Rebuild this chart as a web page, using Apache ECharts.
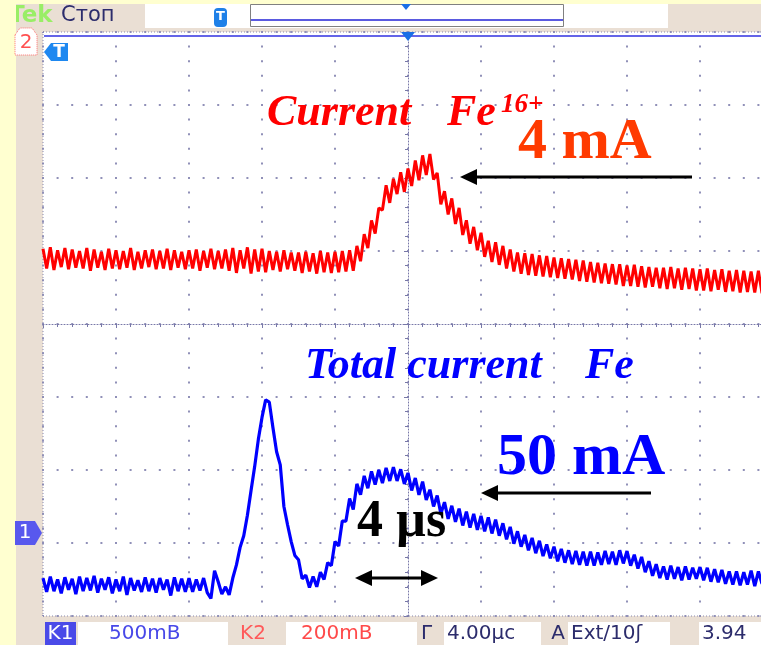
<!DOCTYPE html>
<html><head><meta charset="utf-8">
<script src="https://cdn.jsdelivr.net/npm/echarts@6/dist/echarts.min.js"></script>
<style>html,body{margin:0;padding:0;background:#FFFFD0;}#c{width:761px;height:645px;}</style>
</head><body><div id="c"></div>
<script>
// time axis (µs), 4 µs / div, trigger at centre
const sampleStart = -20;
const sampleStep = 0.2;
const xMin = -20, xMax = 20, xDiv = 4;
// vertical scale in screen divisions (centre = 0)
const yMin = -4, yMax = 4, yDiv = 1;

// Channel 2: Current Fe16+ (divisions)
const currentFe16 = [
1.03,0.76,1.05,0.74,1.01,0.78,1.04,0.75,1.02,0.77,
1.00,0.76,1.04,0.73,1.02,0.77,0.99,0.74,1.03,0.76,
1.01,0.75,1.00,0.77,1.04,0.74,0.99,0.76,1.01,0.78,
1.02,0.75,1.00,0.76,1.03,0.74,1.01,0.77,0.99,0.75,
1.01,0.76,1.02,0.73,1.00,0.77,1.03,0.75,1.00,0.76,
1.02,0.73,1.04,0.70,1.01,0.76,1.05,0.69,1.02,0.72,
1.03,0.71,1.00,0.74,0.99,0.72,1.01,0.75,0.98,0.73,
0.98,0.70,0.99,0.72,0.97,0.69,1.00,0.71,0.98,0.70,
0.99,0.71,1.00,0.72,1.01,0.73,1.07,0.86,1.23,1.04,
1.42,1.24,1.59,1.56,1.90,1.66,1.99,1.78,2.08,1.81,
2.13,1.89,2.24,1.97,2.31,2.04,2.33,1.98,2.07,1.64,
1.82,1.50,1.72,1.37,1.59,1.22,1.42,1.10,1.33,1.01,
1.25,0.92,1.14,0.85,1.12,0.81,1.07,0.76,1.02,0.72,
0.98,0.69,0.97,0.67,0.96,0.66,0.94,0.65,0.93,0.64,
0.91,0.63,0.90,0.62,0.89,0.61,0.88,0.59,0.87,0.58,
0.85,0.57,0.84,0.56,0.83,0.55,0.82,0.54,0.82,0.52,
0.80,0.52,0.81,0.51,0.79,0.50,0.78,0.51,0.77,0.49,
0.77,0.48,0.78,0.49,0.76,0.47,0.77,0.48,0.76,0.46,
0.75,0.46,0.76,0.45,0.74,0.47,0.75,0.44,0.73,0.45,
0.74,0.43,0.73,0.44,0.72,0.43,0.73,0.42
];

// Channel 1: Total current Fe (divisions)
const totalCurrentFe = [
-3.48,-3.67,-3.46,-3.66,-3.50,-3.69,-3.47,-3.64,-3.49,-3.70,
-3.46,-3.66,-3.48,-3.65,-3.45,-3.68,-3.49,-3.64,-3.47,-3.69,
-3.50,-3.66,-3.46,-3.71,-3.48,-3.65,-3.51,-3.67,-3.47,-3.66,
-3.49,-3.68,-3.48,-3.64,-3.50,-3.72,-3.47,-3.66,-3.49,-3.67,
-3.48,-3.67,-3.50,-3.65,-3.48,-3.68,-3.76,-3.38,-3.53,-3.70,
-3.60,-3.71,-3.48,-3.30,-3.06,-2.90,-2.62,-2.28,-1.95,-1.58,
-1.28,-1.04,-1.07,-1.42,-1.75,-1.93,-2.50,-2.75,-2.98,-3.17,
-3.23,-3.49,-3.44,-3.61,-3.46,-3.60,-3.40,-3.50,-3.27,-3.31,
-2.98,-3.04,-2.70,-2.70,-2.39,-2.54,-2.19,-2.34,-2.08,-2.25,
-2.02,-2.20,-2.00,-2.18,-1.97,-2.15,-1.96,-2.15,-1.99,-2.19,
-2.04,-2.28,-2.11,-2.34,-2.16,-2.41,-2.27,-2.50,-2.35,-2.60,
-2.44,-2.67,-2.49,-2.71,-2.53,-2.76,-2.57,-2.79,-2.60,-2.82,
-2.63,-2.84,-2.65,-2.87,-2.68,-2.90,-2.73,-2.95,-2.78,-3.01,
-2.84,-3.05,-2.89,-3.10,-2.93,-3.14,-2.97,-3.18,-3.02,-3.21,
-3.05,-3.25,-3.08,-3.27,-3.10,-3.29,-3.11,-3.30,-3.12,-3.31,
-3.12,-3.31,-3.13,-3.30,-3.11,-3.29,-3.12,-3.30,-3.10,-3.28,
-3.11,-3.31,-3.16,-3.35,-3.19,-3.40,-3.25,-3.45,-3.29,-3.48,
-3.32,-3.50,-3.31,-3.49,-3.33,-3.51,-3.32,-3.50,-3.34,-3.49,
-3.33,-3.51,-3.34,-3.53,-3.36,-3.54,-3.37,-3.56,-3.39,-3.57,
-3.39,-3.58,-3.40,-3.57,-3.38,-3.59,-3.39,-3.56
];

const toPts = arr => arr.map((v, i) => [+(sampleStart + i * sampleStep).toFixed(3), v]);

const GRIDC = '#9090b8';
const CENTERC = '#7878a8';
const SERIF = '"Liberation Serif","Times New Roman",serif';
const SCOPE = '"DejaVu Sans",sans-serif';

function axisCommon() {
  return {
    type: 'value',
    axisLabel: { show: false },
    axisLine: { show: true, onZero: true, lineStyle: { color: CENTERC, width: 1, type: [1, 2] } },
    axisTick: { show: true, length: 4, inside: false, lineStyle: { color: CENTERC, width: 1 } },
    minorTick: { show: true, splitNumber: 5, length: 3, lineStyle: { color: CENTERC, width: 1 } },
    splitLine: { show: true, lineStyle: { color: GRIDC, width: 2, type: [2, 12.6], dashOffset: 1 } }
  };
}

function arrowLeft(x1, x2, y, z) {
  return [
    { type: 'line', z: z, shape: { x1: x1 + 12, y1: y, x2: x2, y2: y }, style: { stroke: '#000', lineWidth: 3 } },
    { type: 'polygon', z: z, shape: { points: [[x1, y], [x1 + 17, y - 8], [x1 + 17, y + 8]] }, style: { fill: '#000' } }
  ];
}
function txt(text, x, y, font, fill, align, z) {
  return { type: 'text', z: z || 20, style: { text: text, x: x, y: y, font: font, fill: fill, textAlign: align || 'left', textVerticalAlign: 'middle' } };
}

const graphics = [];
// outer frame colours
graphics.push({ type: 'rect', z: 1, shape: { x: 0, y: 0, width: 16, height: 645 }, style: { fill: '#FFFFD0' } });
graphics.push({ type: 'rect', z: 1, shape: { x: 0, y: 0, width: 761, height: 4 }, style: { fill: '#FFFFD0' } });
// top bar
graphics.push({ type: 'rect', z: 1, shape: { x: 145, y: 4, width: 523, height: 24 }, style: { fill: '#ffffff' } });
graphics.push(txt('Tek', 9, 16, 'bold 23px ' + SCOPE, '#99EE66', 'left', 2));
graphics.push({ type: 'rect', z: 3, shape: { x: 0, y: 0, width: 16, height: 30 }, style: { fill: '#FFFFD0' } });
graphics.push(txt('Стоп', 61, 16, '21px ' + SCOPE, '#2c2c6c', 'left', 3));
graphics.push({ type: 'rect', z: 3, shape: { x: 214, y: 8, width: 13, height: 19, r: 4 }, style: { fill: '#1E80E8' } });
graphics.push(txt('T', 220.5, 17, 'bold 13px ' + SCOPE, '#ffffff', 'center', 4));
graphics.push({ type: 'rect', z: 3, shape: { x: 250.5, y: 4.5, width: 313, height: 22 }, style: { fill: 'none', stroke: '#808080', lineWidth: 1 } });
graphics.push({ type: 'line', z: 3, shape: { x1: 251, y1: 20, x2: 563, y2: 20 }, style: { stroke: '#5a5ae0', lineWidth: 2 } });
graphics.push({ type: 'polygon', z: 3, shape: { points: [[401, 4], [411, 4], [406, 10]] }, style: { fill: '#1a6fe6' } });

// plot top blue bar and trigger marker
graphics.push({ type: 'line', z: 6, shape: { x1: 44, y1: 36, x2: 761, y2: 36 }, style: { stroke: '#6464e8', lineWidth: 2 } });
graphics.push({ type: 'polygon', z: 7, shape: { points: [[401, 32], [415, 32], [408, 41]] }, style: { fill: '#1a6fe6' } });
// plot border (ruler style)
graphics.push({ type: 'rect', z: 5, shape: { x: 43, y: 32, width: 730, height: 584 }, style: { fill: 'none', stroke: '#8a8ab0', lineWidth: 1, lineDash: [1, 2] } });

// channel 2 marker
graphics.push({ type: 'polygon', z: 7, shape: { points: [[15, 35], [20, 28], [32, 28], [37, 35], [37, 55], [15, 55]] }, style: { fill: '#ffffff', stroke: '#ff7070', lineWidth: 1, lineDash: [1, 1] } });
graphics.push(txt('2', 26, 43, '20px ' + SCOPE, '#ff5050', 'center', 8));
// trigger level marker
graphics.push({ type: 'polygon', z: 7, shape: { points: [[44, 52], [51, 43], [68, 43], [68, 61], [51, 61]] }, style: { fill: '#1E88F0' } });
graphics.push(txt('T', 59, 52.5, 'bold 17px ' + SCOPE, '#ffffff', 'center', 8));
// channel 1 marker
graphics.push({ type: 'polygon', z: 7, shape: { points: [[15, 521], [35, 521], [42, 533], [35, 545], [15, 545]] }, style: { fill: '#5858ee' } });
graphics.push(txt('1', 25, 533, '20px ' + SCOPE, '#ffffff', 'center', 8));

// status bar
const sb = [
  { x: 45, w: 31, fill: '#4a4ae8' }, { x: 78, w: 150, fill: '#ffffff' },
  { x: 286, w: 131, fill: '#ffffff' }, { x: 444, w: 97, fill: '#ffffff' },
  { x: 568, w: 102, fill: '#ffffff' }, { x: 699, w: 62, fill: '#ffffff' }
];
sb.forEach(b => graphics.push({ type: 'rect', z: 2, shape: { x: b.x, y: 622, width: b.w, height: 23 }, style: { fill: b.fill } }));
graphics.push(txt('K1', 60.5, 634, '20px ' + SCOPE, '#ffffff', 'center', 3));
graphics.push(txt('500mB', 109, 634, '20px ' + SCOPE, '#4848e8', 'left', 3));
graphics.push(txt('K2', 253, 634, '20px ' + SCOPE, '#ff5a5a', 'center', 3));
graphics.push(txt('200mB', 301, 634, '20px ' + SCOPE, '#ff4a4a', 'left', 3));
graphics.push(txt('Г', 427, 634, '20px ' + SCOPE, '#2c2c6c', 'center', 3));
graphics.push(txt('4.00µс', 447, 634, '20px ' + SCOPE, '#2c2c6c', 'left', 3));
graphics.push(txt('A', 558, 634, '20px ' + SCOPE, '#2c2c6c', 'center', 3));
graphics.push(txt('Ext/10ʃ', 571, 634, '20px ' + SCOPE, '#2c2c6c', 'left', 3));
graphics.push(txt('3.94', 702, 634, '20px ' + SCOPE, '#2c2c6c', 'left', 3));

// annotations
graphics.push(txt('Current', 267, 114, 'italic bold 44px ' + SERIF, '#ff0000'));
graphics.push(txt('Fe', 447, 114, 'italic bold 44px ' + SERIF, '#ff0000'));
graphics.push(txt('16+', 501, 105, 'italic bold 27px ' + SERIF, '#ff0000'));
graphics.push(txt('4 mA', 518, 143, 'bold 58px ' + SERIF, '#ff3a00'));
arrowLeft(460, 692, 177, 20).forEach(g => graphics.push(g));
graphics.push(txt('Total current', 305, 367, 'italic bold 44px ' + SERIF, '#0000ff'));
graphics.push(txt('Fe', 585, 367, 'italic bold 44px ' + SERIF, '#0000ff'));
graphics.push(txt('50 mA', 497, 458, 'bold 60px ' + SERIF, '#0000ff'));
arrowLeft(481, 651, 493, 20).forEach(g => graphics.push(g));
graphics.push(txt('4 µs', 357, 523, 'bold 52px ' + SERIF, '#000000'));
graphics.push({ type: 'line', z: 20, shape: { x1: 366, y1: 578, x2: 426, y2: 578 }, style: { stroke: '#000', lineWidth: 3 } });
graphics.push({ type: 'polygon', z: 20, shape: { points: [[355, 578], [372, 570], [372, 586]] }, style: { fill: '#000' } });
graphics.push({ type: 'polygon', z: 20, shape: { points: [[438, 578], [421, 570], [421, 586]] }, style: { fill: '#000' } });

const chart = echarts.init(document.getElementById('c'), null, { renderer: 'canvas' });
chart.setOption({
  animation: false,
  backgroundColor: '#EADFD4',
  grid: { left: 43, top: 32, width: 730, height: 584, show: true, backgroundColor: '#ffffff', borderWidth: 0,
          containLabel: false, outerBoundsMode: 'none' },
  xAxis: Object.assign(axisCommon(), { min: xMin, max: xMax, interval: xDiv }),
  yAxis: Object.assign(axisCommon(), { min: yMin, max: yMax, interval: yDiv }),
  series: [
    { name: 'Current Fe16+', type: 'line', data: toPts(currentFe16), showSymbol: false, z: 10,
      lineStyle: { color: '#ff0000', width: 3 }, itemStyle: { color: '#ff0000' } },
    { name: 'Total current Fe', type: 'line', data: toPts(totalCurrentFe), showSymbol: false, z: 10,
      lineStyle: { color: '#0000ff', width: 3.2 }, itemStyle: { color: '#0000ff' } }
  ],
  graphic: graphics
});
</script>
</body></html>
